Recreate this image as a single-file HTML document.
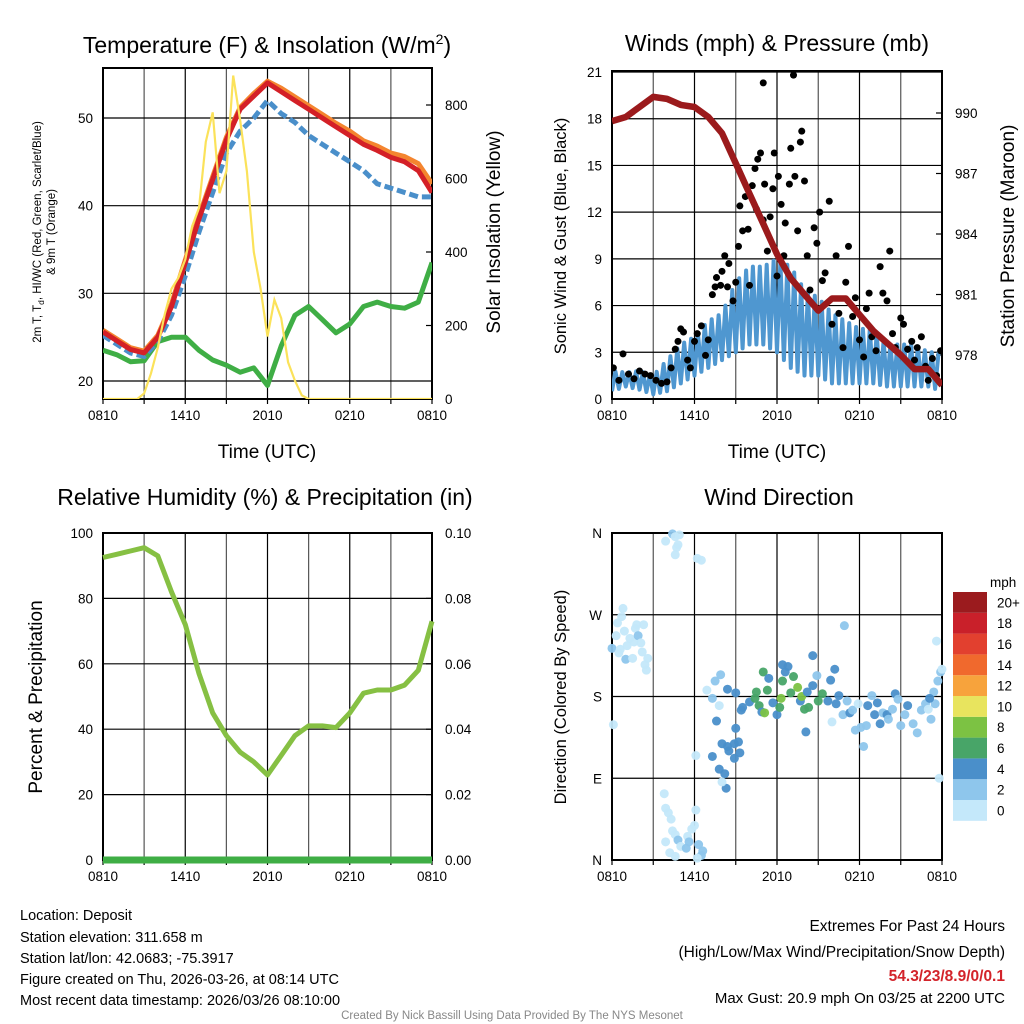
<!DOCTYPE html>
<html><head><meta charset="utf-8"><style>
html,body{margin:0;padding:0;background:#fff}
svg{display:block;font-family:"Liberation Sans",Arial,sans-serif}
</style></head><body>
<svg id="c" width="1024" height="1024" viewBox="0 0 1024 1024" xmlns="http://www.w3.org/2000/svg">
<rect width="1024" height="1024" fill="#fff"/>
<g id="g1"></g>
<g id="g2"></g>
<g id="g3"></g>
<g id="g4"></g>
<g font-size="14.5" fill="#000">
<text x="20" y="920">Location: Deposit</text>
<text x="20" y="942">Station elevation: 311.658 m</text>
<text x="20" y="963">Station lat/lon: 42.0683; -75.3917</text>
<text x="20" y="984">Figure created on Thu, 2026-03-26, at 08:14 UTC</text>
<text x="20" y="1005">Most recent data timestamp: 2026/03/26 08:10:00</text>
<text x="1005" y="931" text-anchor="end" font-size="15.5">Extremes For Past 24 Hours</text>
<text x="1005" y="957" text-anchor="end" font-size="15.5">(High/Low/Max Wind/Precipitation/Snow Depth)</text>
<text x="1005" y="981" text-anchor="end" font-size="15.5" font-weight="bold" fill="#d3232a">54.3/23/8.9/0/0.1</text>
<text x="1005" y="1003" text-anchor="end" font-size="15">Max Gust: 20.9 mph On 03/25 at 2200 UTC</text>
<text x="512" y="1019" text-anchor="middle" font-size="11.5" fill="#888">Created By Nick Bassill Using Data Provided By The NYS Mesonet</text>
</g>
</svg>
<script>
// ---------- data ----------
const hours = [0,1,2,3,4,5,6,7,8,9,10,11,12,13,14,15,16,17,18,19,20,21,22,23,24];
const xTickLabels = ["0810","1410","2010","0210","0810"];
const tempRed = [25.6,24.6,23.6,23.2,25.0,28.5,33.5,38.5,43,47.5,51,52.5,54,53,52,51,50,49,48,47,46.3,45.5,45,44,41.5];
const tempOrange = [25.8,24.8,23.8,23.4,25.2,28.8,33.8,38.8,43.3,47.8,51.2,52.8,54.2,53.4,52.4,51.4,50.4,49.4,48.5,47.4,46.8,46,45.6,44.8,42.5];
const tempBlue = [25.2,24.2,23.2,22.8,24.5,27.5,32,37,41.5,46,48.5,50,52,50.5,49.5,48,47,46,45,44,42.5,42,41.5,41,41];
const dewGreen = [23.5,23,22.2,22.3,24.5,25,25,23.5,22.4,21.8,21,21.5,19.5,24,27.5,28.5,27,25.5,26.5,28.5,29,28.5,28.3,29,33.5];
const solarHours = [0,0.5,1,1.5,2,2.5,3,3.5,4,4.5,5,5.5,6,6.5,7,7.5,8,8.5,9,9.5,10,10.5,11,11.5,12,12.5,13,13.5,14,14.5,15,24];
const solar = [0,0,0,0,0,0,15,70,140,230,300,330,380,470,520,700,780,560,620,880,760,620,400,300,170,270,220,100,50,10,0,0];
const windLow = [0.5,0.8,0.6,0.3,0.5,1,1.5,2,2.5,3,3.5,3.5,3,2,1.5,1.5,1,1,1,1,0.8,0.8,0.8,0.8,0.5];
const windHigh = [1.8,1.7,1.8,1.5,2.5,3.5,4,5,5.5,7.5,8.5,8.5,9,8.5,7,6.5,5.5,5,4.5,4.5,3.5,3.5,3.5,3,3];
const pressure = [989.6,989.8,990.3,990.8,990.7,990.4,990.3,989.8,989,987.5,986,984.5,983,981.8,981,980.2,980.8,980.8,980,979.2,978.6,978,977.3,977.3,976.5];
const gustHours = [0.1,0.5,0.8,1.2,1.6,2.0,2.4,2.8,3.2,3.6,4.0,4.3,4.6,4.8,5.0,5.2,5.5,5.7,6.0,6.2,6.5,6.8,7.0,7.3,7.5,7.6,7.9,8.0,8.2,8.4,8.5,8.8,9.0,9.2,9.3,9.5,9.7,9.9,10.0,10.2,10.4,10.5,10.6,10.8,11.0,11.0,11.1,11.3,11.5,11.7,11.8,12.0,12.1,12.3,12.5,12.6,12.9,13.0,13.2,13.3,13.5,13.7,13.8,14.0,14.2,14.4,14.7,14.9,15.1,15.3,15.5,15.8,16.0,16.3,16.5,16.8,17.0,17.2,17.5,17.7,18.0,18.3,18.5,18.7,18.9,19.2,19.5,19.7,20.0,20.2,20.4,20.6,21.0,21.2,21.5,21.8,22.0,22.2,22.5,22.8,23.0,23.3,23.6,23.9];
const gustValues = [2.0,1.2,2.9,1.6,1.3,1.8,1.6,1.5,1.2,1.0,1.1,2.0,3.2,3.7,4.5,4.3,2.5,2.0,3.7,4.2,4.7,2.8,3.8,6.7,7.2,7.8,7.3,8.2,9.2,7.2,8.7,6.3,7.5,9.8,12.4,10.8,13.0,10.9,7.3,13.7,14.8,12.2,15.4,15.8,11.5,20.3,13.8,9.5,11.7,13.5,15.8,7.9,14.3,12.5,9.2,11.3,13.8,16.1,20.8,14.3,10.8,16.5,17.2,14.0,9.2,7.0,11.0,10.0,12.0,7.6,8.1,12.7,4.8,9.2,5.5,3.3,7.5,9.8,5.3,6.5,3.8,2.7,5.8,6.8,4.0,3.1,8.5,6.8,6.3,9.5,4.2,3.3,5.2,4.8,3.2,3.7,2.5,3.3,4.0,2.1,1.2,2.6,1.5,3.1];
const rh = [92.5,93.5,94.5,95.5,93,82,72,57,45,38,33,30,26,32,38,41,41,40.5,45,51,52,52,53.5,58,73];
const precip = [0,0,0,0,0,0,0,0,0,0,0,0,0,0,0,0,0,0,0,0,0,0,0,0,0];
const dirHours = [0.1,0,0.3,0.5,0.4,0.7,0.8,0.9,0.6,1.0,1.1,1.3,1.5,1.6,1.7,1.8,1.9,2.1,2.2,2.4,2.5,2.6,2.3,3.9,4.4,4.6,4.9,4.8,4.7,4.6,6.2,6.5,3.8,3.9,4.1,4.3,4.4,4.6,4.8,5.0,3.9,4.2,4.6,5.4,5.5,5.6,5.8,6.0,6.3,6.6,6.5,6.2,6.1,6.1,6.9,7.3,7.5,7.9,7.6,7.8,7.3,7.8,8.0,8.2,8.4,8.5,8.9,8.9,9.0,9.5,9.2,9.3,9.4,9.0,8.3,8.0,8.4,10.0,10.4,10.5,10.7,10.9,11.1,11.3,11.0,11.4,11.7,12.0,12.2,12.4,12.6,12.8,12.4,12.3,13.0,13.2,13.5,13.7,13.8,14.0,14.1,14.3,14.2,14.6,14.6,14.9,15.0,15.3,15.7,15.9,16.0,16.2,16.3,16.5,16.8,17.1,16.9,17.3,17.5,17.7,17.9,18.1,18.3,18.5,18.6,18.9,19.1,19.3,19.5,19.7,20.0,20.1,20.4,20.6,20.8,21.0,21.3,21.5,21.9,22.2,22.5,22.8,23.0,23.2,23.4,23.7,23.9,23.6,24.0,23.8,23.5,23.1];
const dirValues = [149,233,247,228,261,268,277,252,232,221,236,244,222,240,255,259,247,239,229,215,209,222,259,351,359,356,358,347,344,336,332,330,73,57,52,45,32,28,22,15,20,8,4,13,26,20,34,38,17,10,5,2,55,115,187,178,197,204,153,170,114,100,128,95,125,120,112,128,145,168,130,118,165,184,79,86,188,174,178,185,170,163,162,187,207,200,173,160,168,197,207,213,215,178,184,202,190,175,180,166,141,168,185,192,225,203,175,183,175,198,152,210,172,181,160,175,258,162,165,143,172,146,125,148,170,181,160,173,150,162,160,155,166,183,177,148,160,170,150,140,165,172,166,155,185,197,207,241,210,90,172,178];
const dirSpeeds = [1,2,0,0,0,1,0,1,1,2,0,0,0,0,1,0,2,0,0,0,0,0,0,0,2,1,0,1,1,1,1,0,0,0,0,0,0,1,2,1,0,0,0,2,1,2,0,0,2,2,2,1,0,0,1,2,2,2,4,1,4,4,4,4,4,4,4,4,4,4,4,4,4,4,4,1,4,4,6,6,6,4,8,6,6,4,4,4,6,6,4,4,4,8,6,6,8,4,8,6,4,6,4,4,4,2,6,6,4,4,1,4,4,4,2,2,2,4,2,2,1,2,2,2,4,2,4,4,4,2,4,2,2,4,2,2,2,4,2,2,2,2,0,2,2,2,2,0,1,1,2,4];
const legendLabels = ["0","2","4","6","8","10","12","14","16","18","20+"];
const legendColors = ["#c4e8fa","#8ec6ec","#4a8fca","#48a568","#7cc243","#e8e45e","#f7a33c","#f0692d","#e2402f","#c9202a","#9b1b1e"];

// ---------- helpers ----------
const NS="http://www.w3.org/2000/svg";
function mk(parent,tag,attrs,text){const e=document.createElementNS(NS,tag);for(const k in attrs)e.setAttribute(k,attrs[k]);if(text!==undefined)e.textContent=text;parent.appendChild(e);return e;}
function lin(d0,d1,r0,r1){return v=>r0+(v-d0)*(r1-r0)/(d1-d0);}
function path(xs,ys,fx,fy){return xs.map((h,i)=>(i?"L":"M")+fx(h).toFixed(1)+","+fy(ys[i]).toFixed(1)).join("");}

function frame(g,L,T,R,B,yTicks,fy,yLabels,name){
  for(let i=0;i<=8;i++){const x=L+(R-L)*i/8;
    const gl=mk(g,"line",{x1:x,y1:T,x2:x,y2:B,stroke:i%2?"#555":"#000","stroke-width":1.2});
    
    
    const tk=mk(g,"line",{x1:x,y1:B,x2:x,y2:B+5,stroke:"#000","stroke-width":1.2});
    
    }
  yTicks.forEach((v,i)=>{const y=fy(v);
    const gl=mk(g,"line",{x1:L,y1:y,x2:R,y2:y,stroke:"#000","stroke-width":1.2});
    
    
    const t=mk(g,"text",{x:L-10,y:y+5,"text-anchor":"end","font-size":"13.5"},yLabels[i]);
    
    });
  xTickLabels.forEach((s,i)=>{const t=mk(g,"text",{x:L+(R-L)*i/4,y:B+21,"text-anchor":"middle","font-size":"13.5"},s);
    
    });
  const f=mk(g,"rect",{x:L,y:T,width:R-L,height:B-T,fill:"none",stroke:"#000","stroke-width":2});
  
  
}
function rightTicks(g,R,vals,fy,labels){
  vals.forEach((v,i)=>{const y=fy(v);
    mk(g,"line",{x1:R,y1:y,x2:R-6,y2:y,stroke:"#000","stroke-width":1.2});
    const t=mk(g,"text",{x:R+13,y:y+5,"font-size":"13.5"},labels[i]);
    
    });
}
function title(g,x,y,txt,name){const t=mk(g,"text",{x:x,y:y,"text-anchor":"middle","font-size":"23"},txt);return t;}
function vlabel(g,x,y,txt,size,name){const t=mk(g,"text",{x:x,y:y,"text-anchor":"middle","font-size":size,transform:`rotate(-90 ${x} ${y})`},txt);return t;}

// ---------- panel 1 ----------
(function(){
  const g=document.getElementById("g1");
  const L=103,R=432,T=68,B=399;
  const fx=lin(0,24,L,R), fy=lin(20,50,381,118), fs=lin(0,800,399,105);
  frame(g,L,T,R,B,[20,30,40,50],fy,["20","30","40","50"],"temperature");
  rightTicks(g,R,[0,200,400,600,800],fs,["0","200","400","600","800"]);
  const clip=mk(g,"clipPath",{id:"cp1"});mk(clip,"rect",{x:L,y:T,width:R-L,height:B-T});
  const s=mk(g,"g",{"clip-path":"url(#cp1)"});
  let p=mk(s,"path",{d:path(hours,dewGreen,fx,fy),fill:"none",stroke:"#3fae45","stroke-width":5,"stroke-linejoin":"round"});
  
  p=mk(s,"path",{d:path(hours,tempOrange,fx,fy),fill:"none",stroke:"#f4852f","stroke-width":5,"stroke-linejoin":"round"});
  
  p=mk(s,"path",{d:path(hours,tempBlue,fx,fy),fill:"none",stroke:"#4a8fca","stroke-width":5,"stroke-dasharray":"9 4"});
  
  p=mk(s,"path",{d:path(hours,tempRed,fx,fy),fill:"none",stroke:"#d42027","stroke-width":5,"stroke-linejoin":"round"});
  
  p=mk(s,"path",{d:path(solarHours,solar,fx,fs),fill:"none",stroke:"#fbe25a","stroke-width":2.2});
  
  const t=title(g,267,53,"Temperature (F) & Insolation (W/m","panel1-title");
  mk(t,"tspan",{dy:"-9","font-size":"14"},"2");mk(t,"tspan",{dy:"9"},")");
  const tl=mk(g,"text",{x:267,y:458,"text-anchor":"middle","font-size":"19"},"Time (UTC)");
  
  const gl=mk(g,"text",{"font-size":"11.5","text-anchor":"middle",transform:"translate(41 232) rotate(-90)"});
  
  mk(gl,"tspan",{x:0,y:0},"2m T, T");mk(gl,"tspan",{dy:"3","font-size":"8.5"},"d");mk(gl,"tspan",{dy:"-3"},", HI/WC (Red, Green, Scarlet/Blue)");
  mk(gl,"tspan",{x:0,y:14},"& 9m T (Orange)");
  vlabel(g,500,232,"Solar Insolation (Yellow)","19","right-axis-title");
})();

// ---------- panel 2 ----------
(function(){
  const g=document.getElementById("g2");
  const L=612,R=942,T=71,B=399;
  const fx=lin(0,24,L,R), fy=lin(0,21,399,72), fp=lin(978,990,355,113);
  frame(g,L,T,R,B,[0,3,6,9,12,15,18,21],fy,["0","3","6","9","12","15","18","21"],"wind");
  rightTicks(g,R,[978,981,984,987,990],fp,["978","981","984","987","990"]);
  const clip=mk(g,"clipPath",{id:"cp2"});mk(clip,"rect",{x:L,y:T,width:R-L,height:B-T});
  const s=mk(g,"g",{"clip-path":"url(#cp2)"});
  let d="";
  for(let i=0;i<hours.length-1;i++){for(let k=0;k<4;k++){const h=hours[i]+k*0.25;const f=k*0.25;
    const lo=windLow[i]+(windLow[i+1]-windLow[i])*f, hi=windHigh[i]+(windHigh[i+1]-windHigh[i])*f;
    const v=(k%2)?hi:lo; d+=(d?"L":"M")+fx(h).toFixed(1)+","+fy(v).toFixed(1);}}
  let p=mk(s,"path",{d:d,fill:"none",stroke:"#4f97d0","stroke-width":4,"stroke-linejoin":"round"});
  
  gustHours.forEach((h,i)=>{const c=mk(s,"circle",{cx:fx(h),cy:fy(gustValues[i]),r:3.5,fill:"#000"});
    
    });
  p=mk(s,"path",{d:path(hours,pressure,fx,fp),fill:"none",stroke:"#9b1a1c","stroke-width":6.5,"stroke-linejoin":"round"});
  
  title(g,777,51,"Winds (mph) & Pressure (mb)","panel2-title");
  const tl=mk(g,"text",{x:777,y:458,"text-anchor":"middle","font-size":"19"},"Time (UTC)");
  
  vlabel(g,566,236,"Sonic Wind & Gust (Blue, Black)","16.5","y-axis-title");
  vlabel(g,1014,236,"Station Pressure (Maroon)","19","right-axis-title");
})();

// ---------- panel 3 ----------
(function(){
  const g=document.getElementById("g3");
  const L=103,R=432,T=533,B=860;
  const fx=lin(0,24,L,R), fy=lin(0,100,860,533), fpr=lin(0,0.1,860,533);
  frame(g,L,T,R,B,[0,20,40,60,80,100],fy,["0","20","40","60","80","100"],"humidity");
  rightTicks(g,R,[0,0.02,0.04,0.06,0.08,0.1],fpr,["0.00","0.02","0.04","0.06","0.08","0.10"]);
  let p=mk(g,"path",{d:path(hours,rh,fx,fy),fill:"none",stroke:"#86c043","stroke-width":5,"stroke-linejoin":"round"});
  
  p=mk(g,"path",{d:path(hours,precip,fx,fpr),fill:"none",stroke:"#3fae45","stroke-width":7});
  
  title(g,265,505,"Relative Humidity (%) & Precipitation (in)","panel3-title");
  vlabel(g,42,697,"Percent & Precipitation","19","y-axis-title");
})();

// ---------- panel 4 ----------
(function(){
  const g=document.getElementById("g4");
  const L=612,R=942,T=533,B=860;
  const fx=lin(0,24,L,R), fy=lin(0,360,860,533);
  frame(g,L,T,R,B,[0,90,180,270,360],fy,["N","E","S","W","N"],"direction");
  const clip=mk(g,"clipPath",{id:"cp4"});mk(clip,"rect",{x:L-5,y:T-5,width:R-L+10,height:B-T+10});
  const s=mk(g,"g",{"clip-path":"url(#cp4)"});
  dirHours.forEach((h,i)=>{const bin=Math.min(10,Math.floor(dirSpeeds[i]/2));
    const c=mk(s,"circle",{cx:fx(h),cy:fy(dirValues[i]),r:4.5,fill:legendColors[bin],"fill-opacity":0.95});
    
    });
  title(g,779,505,"Wind Direction","panel4-title");
  vlabel(g,566,697,"Direction (Colored By Speed)","16.5","y-axis-title");
  const lg=mk(g,"g",{});
  
  const ut=mk(lg,"text",{x:990,y:587,"font-size":"13.5"},"mph");
  
  const top=592,bh=20.8;
  legendLabels.forEach((lab,i)=>{const y=top+(10-i)*bh;
    const r=mk(lg,"rect",{x:953,y:y,width:34,height:bh,fill:legendColors[i]});
    
    
    const t=mk(lg,"text",{x:997,y:y+bh/2+5,"font-size":"13.5"},lab);
    
    });
})();
</script>
</body></html>
